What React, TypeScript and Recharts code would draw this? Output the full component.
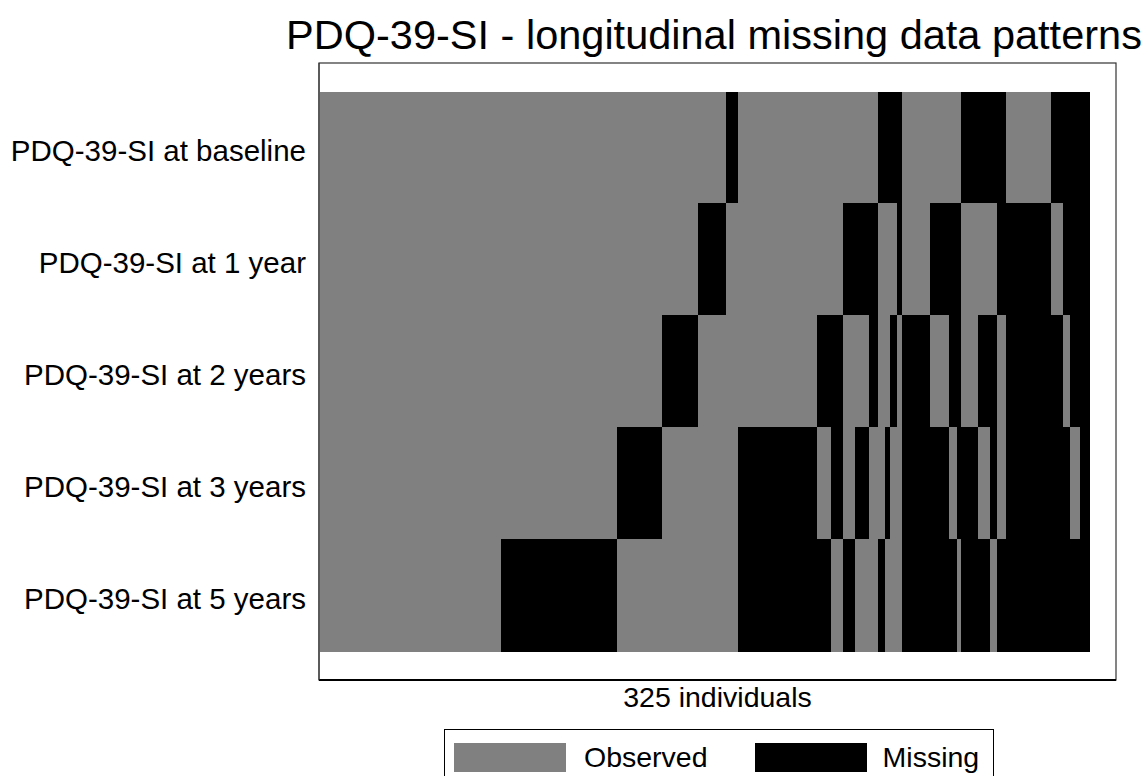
import React from 'react';
import * as Recharts from 'recharts';
import { BarChart, Bar, Cell, XAxis, YAxis } from 'recharts';

// one row per follow-up wave
const rowLabels = [
  'PDQ-39-SI at baseline',
  'PDQ-39-SI at 1 year',
  'PDQ-39-SI at 2 years',
  'PDQ-39-SI at 3 years',
  'PDQ-39-SI at 5 years',
];

// missingness pattern per group of individuals: char r is row r, '1' = missing
const patterns = [
  '00000', '00001', '00010', '00100', '01000', '10000',
  '00011', '00101', '00110', '01001', '01010', '01100',
  '10001', '10010', '10100', '11000',
  '00111', '01011', '01101', '01110', '10011', '10101', '10110', '11001',
  '01111', '10111', '11011', '11101', '11111',
];

// number of individuals with each pattern (sums to 325)
const patternCounts = [
  77, 49, 19, 15, 12, 5,
  33, 6, 5, 5, 6, 4,
  3, 2, 3, 2,
  12, 8, 3, 2, 7, 5, 3, 4,
  19, 5, 3, 4, 4,
];

const legendItems = [
  { label: 'Observed', color: '#808080' },
  { label: 'Missing', color: '#000000' },
];

const FONT = '"Liberation Sans", Arial, sans-serif';
const OBSERVED = '#808080';
const MISSING = '#000000';

const chartData = rowLabels.map((label) => {
  const row: Record<string, string | number> = { label };
  patterns.forEach((_, i) => {
    row['p' + i] = patternCounts[i];
  });
  return row;
});

const total = patternCounts.reduce((a, b) => a + b, 0);

const usePlotArea: any = (Recharts as any).usePlotArea;

// thin box round the plot area (top, left, right; bottom is the x axis line)
const PlotFrame = () => {
  const area = usePlotArea ? usePlotArea() : undefined;
  if (!area) return null;
  return (
    <rect
      x={area.x}
      y={area.y}
      width={area.width}
      height={area.height}
      fill="none"
      stroke="#333"
      strokeWidth={1.2}
    />
  );
};

export default function App() {
  return (
    <div
      style={{
        position: 'absolute',
        left: 0,
        top: 0,
        width: 1147,
        height: 776,
        overflow: 'hidden',
        background: '#fff',
        fontFamily: FONT,
      }}
    >
      <div
        style={{
          position: 'absolute',
          left: 114,
          top: 14,
          width: 1200,
          textAlign: 'center',
          fontSize: 41.5,
          lineHeight: 1,
          whiteSpace: 'nowrap',
          color: '#000',
        }}
      >
        PDQ-39-SI - longitudinal missing data patterns
      </div>

      <BarChart
        width={1147}
        height={776}
        data={chartData}
        layout="vertical"
        barCategoryGap={0}
        barGap={0}
        margin={{ top: 63, right: 31, left: 0, bottom: 56 }}
      >
        <XAxis
          type="number"
          domain={[0, 336]}
          allowDataOverflow
          tick={false}
          tickLine={false}
          axisLine={{ stroke: '#000', strokeWidth: 2 }}
          height={40}
          label={{
            value: `${total} individuals`,
            position: 'insideTop',
            offset: 7,
            fill: '#000',
            fontSize: 28.5,
            fontFamily: FONT,
          }}
        />
        <YAxis
          type="category"
          dataKey="label"
          width={319}
          padding={{ top: 29, bottom: 29 }}
          tickLine={false}
          tickSize={0}
          tickMargin={13}
          axisLine={{ stroke: '#333', strokeWidth: 1 }}
          tick={{ fill: '#000', fontSize: 29.5, fontFamily: FONT, dy: 3 }}
        />
        {patterns.map((p, i) => (
          <Bar key={p} dataKey={'p' + i} stackId="a" isAnimationActive={false}>
            {rowLabels.map((_, r) => {
              const c = p[r] === '1' ? MISSING : OBSERVED;
              return (
                <Cell
                  key={r}
                  fill={c}
                  stroke={c}
                  strokeWidth={1}
                  shapeRendering="crispEdges"
                />
              );
            })}
          </Bar>
        ))}
        <PlotFrame />
      </BarChart>

      <div
        style={{
          position: 'absolute',
          left: 444,
          top: 729,
          width: 550,
          height: 70,
          border: '1px solid #000',
          display: 'flex',
          alignItems: 'flex-start',
          paddingLeft: 9,
          paddingTop: 12,
          boxSizing: 'border-box',
          fontSize: 28.5,
          lineHeight: '30px',
        }}
      >
        {legendItems.map((item, i) => (
          <div
            key={item.label}
            style={{ display: 'flex', alignItems: 'center', marginRight: i === 0 ? 47 : 0 }}
          >
            <div style={{ width: 112, height: 29, background: item.color }} />
            <span style={{ marginLeft: i === 0 ? 18 : 16 }}>{item.label}</span>
          </div>
        ))}
      </div>
    </div>
  );
}
